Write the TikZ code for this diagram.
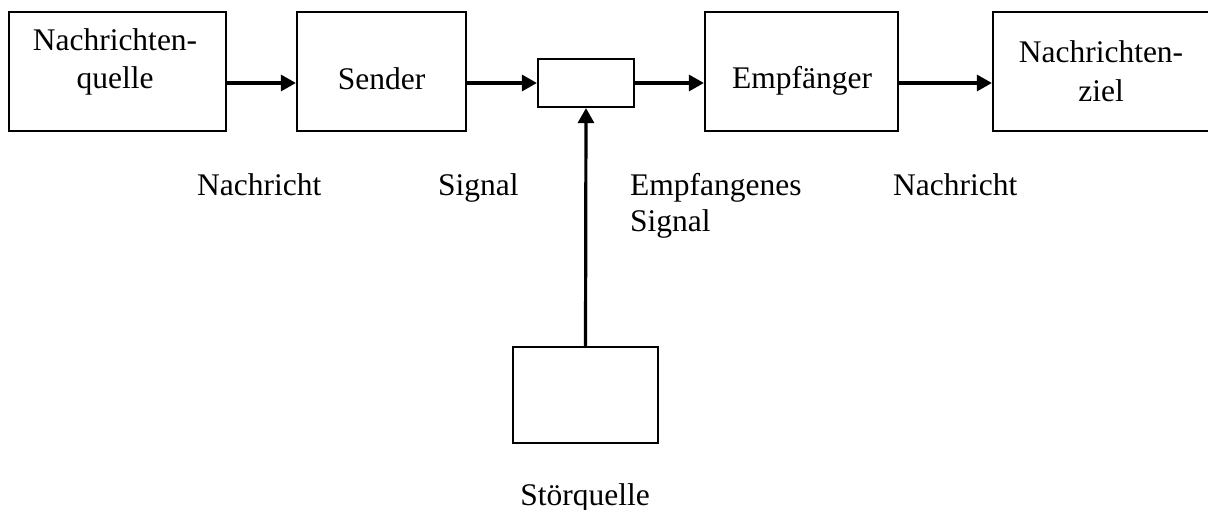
\documentclass[tikz,border=0pt]{standalone}
\usepackage{fontspec}
\setmainfont{Liberation Serif}
\usetikzlibrary{arrows.meta}
\begin{document}
\begin{tikzpicture}[x=1pt, y=-1pt,
  font=\fontsize{31.5}{38}\selectfont,
  block/.style={draw, line width=2.2pt, inner sep=0pt, minimum height=119pt},
  txt/.style={anchor=base, inner sep=0pt},
  ltxt/.style={anchor=base west, inner sep=0pt},
  flow/.style={line width=3.2pt, -{Triangle[length=15pt, width=16pt]}}]
\useasboundingbox (0,0) rectangle (1208,510);
\clip (0,0) rectangle (1208,510);

% blocks of the transmission chain
\node[block, minimum width=217pt] (quelle) at (117.5,71.5) {};
\node[block, minimum width=169pt] (sender) at (381.5,71.5) {};
\node[block, minimum width=96pt, minimum height=48pt] (kanal) at (586,83) {};
\node[block, minimum width=193pt] (empf) at (801.5,71.5) {};
\node[block, minimum width=217pt] (ziel) at (1101.5,71.5) {};
\node[block, minimum width=145pt, minimum height=96pt] (stoer) at (585.5,395) {};

% block captions
\node[txt] (tq1) at (115,51) {Nachrichten-};
\node[txt] (tq2) at (115,89) {quelle};
\node[txt] (ts) at (381.5,90) {Sender};
\node[txt] (te) at (802,89) {Empfänger};
\node[txt] (tz1) at (1101,63) {Nachrichten-};
\node[txt] (tz2) at (1101,102) {ziel};

% signal labels
\node[ltxt] (l1) at (197,196) {Nachricht};
\node[ltxt] (l2) at (438,196) {Signal};
\node[ltxt] (l3) at (630,196) {Empfangenes};
\node[ltxt] (l4) at (630,232) {Signal};
\node[ltxt] (l5) at (893,196) {Nachricht};
\node[txt] (l6) at (585,505) {Störquelle};

% connectors
\draw[flow] (quelle.east |- kanal.center) -- (sender.west |- kanal.center);
\draw[flow] (sender.east |- kanal.center) -- (kanal.west);
\draw[flow] (kanal.east) -- (empf.west |- kanal.center);
\draw[flow] (empf.east |- kanal.center) -- (ziel.west |- kanal.center);
\draw[flow] (stoer.north) -- (kanal.south);
\end{tikzpicture}
\end{document}
